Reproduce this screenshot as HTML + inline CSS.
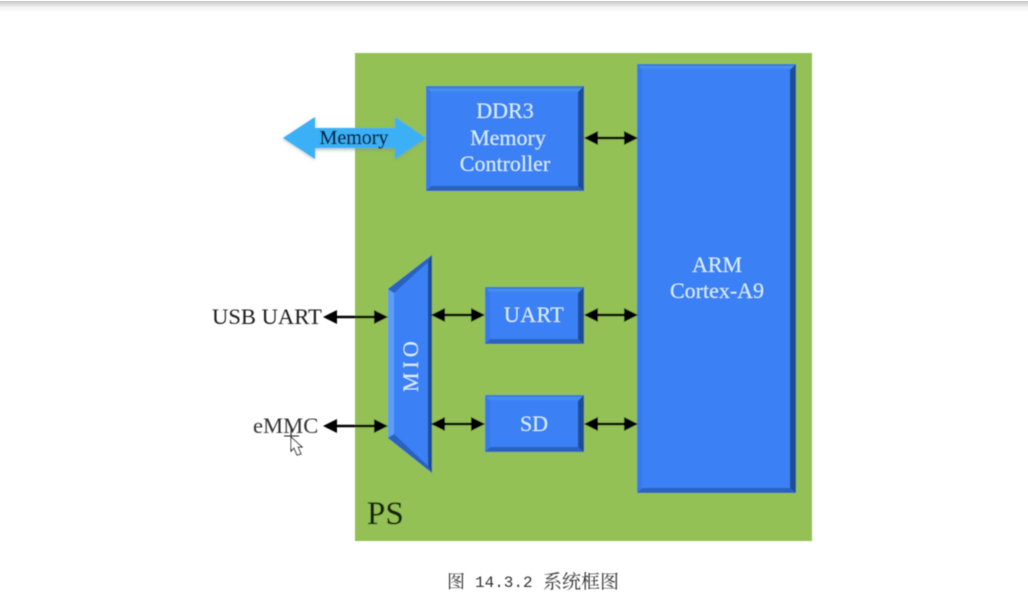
<!DOCTYPE html>
<html>
<head>
<meta charset="utf-8">
<style>
html,body{margin:0;padding:0;background:#fff;}
svg{display:block;}
text{font-family:"Liberation Serif","Noto Serif CJK SC",serif;}
</style>
</head>
<body>
<svg width="1028" height="614" viewBox="0 0 1028 614" xmlns="http://www.w3.org/2000/svg">
<defs>
<linearGradient id="top" x1="0" y1="0" x2="0" y2="1">
<stop offset="0" stop-color="#c4c8c8"/><stop offset="0.2" stop-color="#d8d8d8"/><stop offset="0.6" stop-color="#f6f6f6"/><stop offset="1" stop-color="#fff"/>
</linearGradient>
<linearGradient id="bev" x1="0" y1="0" x2="0" y2="1">
<stop offset="0" stop-color="#2f6fd0"/><stop offset="0.5" stop-color="#4a92f0"/><stop offset="1" stop-color="#3a80f4"/>
</linearGradient>
<filter id="soft" x="-5%" y="-5%" width="110%" height="110%"><feGaussianBlur stdDeviation="0.6"/></filter>
<filter id="sh" x="-10%" y="-20%" width="120%" height="140%"><feGaussianBlur stdDeviation="1.6"/></filter>
</defs>
<rect x="0" y="1" width="1028" height="12" fill="url(#top)"/>
<g filter="url(#soft)">
<rect x="355" y="53" width="457" height="488" fill="#93c155"/>

<!-- Memory arrow -->
<polygon points="283,139 315,118 315,129 395,129 395,118 426,139 395,160 395,150 315,150 315,160" fill="#7a9090" opacity=".55" filter="url(#sh)"/>
<polygon points="283,138 315,117 315,128 395,128 395,117 426,138 395,159 395,148 315,148 315,159" fill="#3bb0f6"/>
<text x="354" y="144" font-size="20" text-anchor="middle" fill="#081a30" stroke="#081a30" stroke-width=".3">Memory</text>

<!-- DDR -->
<rect x="426" y="86" width="158" height="105" fill="#3a80f4"/>
<polygon points="426,86 584,86 578,93 432,93" fill="url(#bev)"/>
<polygon points="584,86 584,191 578,186 578,92" fill="#1f4d96"/>
<polygon points="426,191 584,191 578,186 431,186" fill="#2a62bf"/>
<polygon points="426,86 431,92 431,186 426,191" fill="#357ae8"/>
<text x="505" y="118" font-size="22" text-anchor="middle" fill="#d6f0ff">DDR3</text>
<text x="508" y="145" font-size="22" text-anchor="middle" fill="#d6f0ff">Memory</text>
<text x="505" y="171" font-size="22" text-anchor="middle" fill="#d6f0ff">Controller</text>

<!-- ARM -->
<rect x="637" y="64" width="159" height="429" fill="#3a80f4"/>
<polygon points="637,64 796,64 790,70 642,70" fill="url(#bev)"/>
<polygon points="796,64 796,493 790,488 790,70" fill="#1f4d96"/>
<polygon points="637,493 796,493 790,488 642,488" fill="#2a62bf"/>
<polygon points="637,64 642,70 642,488 637,493" fill="#357ae8"/>
<text x="717" y="272" font-size="22" text-anchor="middle" fill="#d6f0ff">ARM</text>
<text x="717" y="298" font-size="22" text-anchor="middle" fill="#d6f0ff">Cortex-A9</text>

<!-- UART -->
<rect x="485" y="287" width="99" height="57" fill="#3a80f4"/>
<polygon points="485,287 584,287 578,293 490,293" fill="url(#bev)"/>
<polygon points="584,287 584,344 578,339 578,293" fill="#1f4d96"/>
<polygon points="485,344 584,344 578,339 490,339" fill="#2a62bf"/>
<polygon points="485,287 490,293 490,339 485,344" fill="#357ae8"/>
<text x="534" y="322" font-size="22" text-anchor="middle" letter-spacing=".4" fill="#d6f0ff">UART</text>

<!-- SD -->
<rect x="485" y="395" width="99" height="57" fill="#3a80f4"/>
<polygon points="485,395 584,395 578,401 490,401" fill="url(#bev)"/>
<polygon points="584,395 584,452 578,447 578,401" fill="#1f4d96"/>
<polygon points="485,452 584,452 578,447 490,447" fill="#2a62bf"/>
<polygon points="485,395 490,401 490,447 485,452" fill="#357ae8"/>
<text x="534" y="431" font-size="22" text-anchor="middle" fill="#d6f0ff">SD</text>

<!-- MIO -->
<polygon points="388,289 432,255 432,473 388,438" fill="#3a80f4"/>
<polygon points="388,289 432,255 428,262 394,293" fill="#2a62bf"/>
<polygon points="432,255 432,473 428,466 428,262" fill="#1f4d96"/>
<polygon points="388,438 432,473 428,466 394,434" fill="#2a62bf"/>
<polygon points="388,289 394,293 394,434 388,438" fill="#5a9ef5"/>
<text transform="translate(418,392) rotate(-90)" font-size="22" letter-spacing="4" fill="#d6f0ff">MIO</text>

<!-- Connectors -->
<g stroke="#000" stroke-width="2.4" fill="#000">
<line x1="590" y1="138" x2="632" y2="138"/>
<polygon stroke="none" points="584,138 598,131 598,145"/><polygon stroke="none" points="638,138 624,131 624,145"/>
<line x1="590" y1="315" x2="632" y2="315"/>
<polygon stroke="none" points="584,315 598,308 598,322"/><polygon stroke="none" points="638,315 624,308 624,322"/>
<line x1="590" y1="424" x2="632" y2="424"/>
<polygon stroke="none" points="584,424 598,417 598,431"/><polygon stroke="none" points="638,424 624,417 624,431"/>
<line x1="437" y1="315" x2="480" y2="315"/>
<polygon stroke="none" points="431,315 445,308 445,322"/><polygon stroke="none" points="485,315 471,308 471,322"/>
<line x1="437" y1="424" x2="480" y2="424"/>
<polygon stroke="none" points="431,424 445,417 445,431"/><polygon stroke="none" points="485,424 471,417 471,431"/>
<line x1="329" y1="317" x2="382" y2="317"/>
<polygon stroke="none" points="323,317 337,310 337,324"/><polygon stroke="none" points="388,317 374,310 374,324"/>
<line x1="329" y1="426" x2="382" y2="426"/>
<polygon stroke="none" points="323,426 337,419 337,433"/><polygon stroke="none" points="388,426 374,419 374,433"/>
</g>

<text x="212" y="324" font-size="22.6" fill="#1c1c1c">USB UART</text>
<text x="253" y="433" font-size="22.6" fill="#333">eMMC</text>
<text x="367" y="524" font-size="33" fill="#16240c" stroke="#16240c" stroke-width=".3">PS</text>
<text x="447" y="588" font-size="18" fill="#333">图</text>
<text x="475" y="587" font-size="16" fill="#333" style='font-family:"Liberation Mono",monospace'>14.3.2</text>
<text x="543" y="588" font-size="19" fill="#333">系统框图</text>

<!-- Cursor -->
<g stroke="#222" stroke-width="1" fill="#111">
<line x1="284" y1="436" x2="299" y2="436"/><line x1="291" y1="429" x2="291" y2="441"/>
</g>
<polygon points="291,437 291,451 294,448 297,455 301,454 298,447 302,447" fill="#fff" stroke="#222" stroke-width="1"/>
</g>
</svg>
</body>
</html>
